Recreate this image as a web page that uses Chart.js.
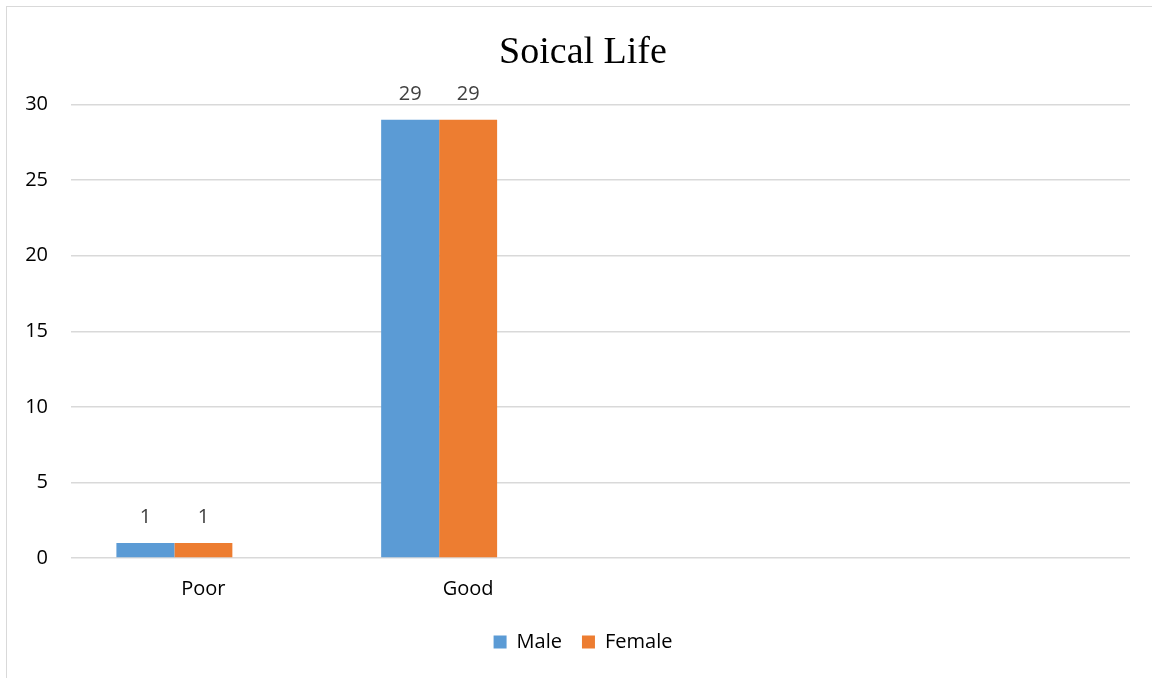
<!DOCTYPE html>
<html>
<head>
<meta charset="utf-8">
<script src="https://cdn.jsdelivr.net/npm/chart.js@4/dist/chart.umd.min.js"></script>
<style>
  body { margin: 0; background: #fff; overflow: hidden; }
  #box { position: absolute; left: 6px; top: 6px; width: 1160px; height: 680px;
         border-left: 1px solid #d9d9d9; border-top: 1px solid #d9d9d9; }
</style>
</head>
<body>
<div id="box"><canvas id="chart" width="1160" height="680"></canvas></div>
<script>
var categories = ['Poor', 'Good', '', ''];
var maleValues = [1, 29, null, null];
var femaleValues = [1, 29, null, null];
var blankValues = [null, null, null, null];
var yTicks = [0, 5, 10, 15, 20, 25, 30];

var tickFont = { family: "'Open Sans', 'Noto Sans', sans-serif", size: 20 };

// draws the value over each bar, like excel data labels
var valueLabels = {
    id: 'valueLabels',
    afterDatasetsDraw: function(chart){
        var ctx = chart.ctx;
        ctx.save();
        ctx.font = "20px 'Open Sans', 'Noto Sans', sans-serif";
        ctx.fillStyle = '#404040';
        ctx.textAlign = 'center';
        ctx.textBaseline = 'alphabetic';
        chart.data.datasets.forEach(function(ds, i){
            var meta = chart.getDatasetMeta(i);
            meta.data.forEach(function(bar, j){
                var v = ds.data[j];
                if (v == null) return;
                ctx.fillText(String(v), bar.x, bar.y - 20);
            });
        });
        ctx.restore();
    }
};

// y labels sit left of the padded area, so widen the clip box of the axis
var freeYLabels = {
    id: 'freeYLabels',
    afterLayout: function(chart){
        chart.scales.y.left = 0;
    }
};

new Chart(document.getElementById('chart'), {
    type: 'bar',
    data: {
        labels: categories,
        datasets: [
            { label: 'Male', data: maleValues, backgroundColor: '#5B9BD5', borderWidth: 0 },
            { label: 'Female', data: femaleValues, backgroundColor: '#ED7D31', borderWidth: 0 },
            { label: '', data: blankValues, backgroundColor: '#A5A5A5', borderWidth: 0 }
        ]
    },
    plugins: [valueLabels, freeYLabels],
    options: {
        responsive: false,
        animation: false,
        datasets: { bar: { categoryPercentage: 0.657, barPercentage: 1 } },
        layout: { padding: { left: 29, right: 37, top: 23, bottom: 25 } },
        plugins: {
            title: {
                display: true,
                text: 'Soical Life',
                color: '#000',
                font: { family: "'Liberation Serif', 'Times New Roman', serif", size: 38, weight: 'normal' },
                padding: { top: 0, bottom: 29 }
            },
            legend: {
                position: 'bottom',
                labels: {
                    color: '#000',
                    font: tickFont,
                    boxWidth: 13,
                    boxHeight: 13,
                    padding: 20,
                    filter: function(item){ return item.text !== ''; }
                }
            },
            tooltip: { enabled: false }
        },
        scales: {
            x: {
                afterFit: function(scale){ scale.height = scale.height - 8; },
                grid: { display: false, drawTicks: false },
                border: { display: false },
                ticks: { color: '#000', font: tickFont, padding: 19 }
            },
            y: {
                min: 0,
                max: 30,
                afterBuildTicks: function(scale){
                    scale.ticks = yTicks.map(function(v){ return { value: v }; });
                },
                afterFit: function(scale){ scale.width = 35; },
                grid: { color: '#d9d9d9', lineWidth: 1.5, drawTicks: false },
                border: { display: false },
                ticks: { color: '#000', font: tickFont, padding: 23 }
            }
        }
    }
});
</script>
</body>
</html>
